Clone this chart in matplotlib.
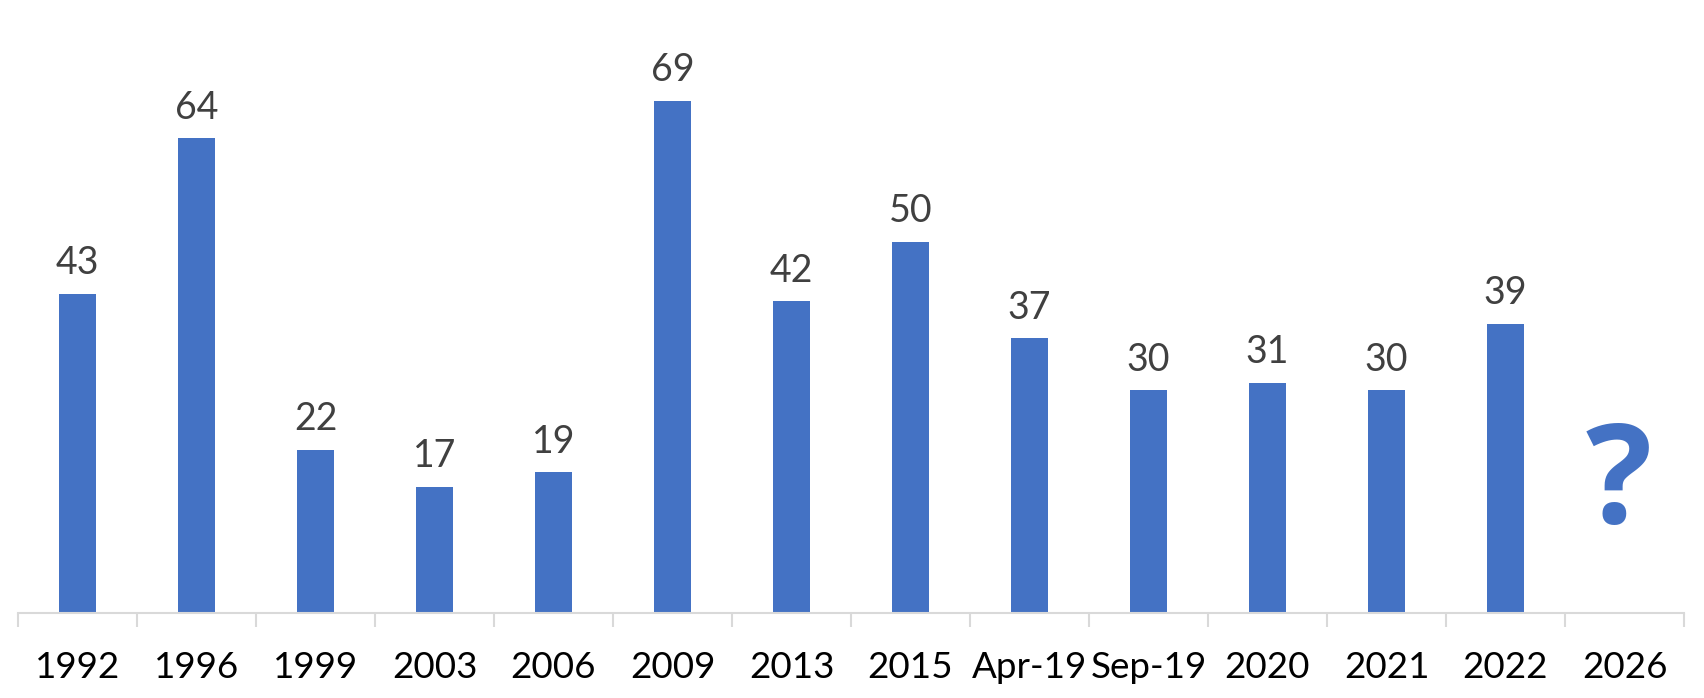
import numpy as np
import matplotlib
matplotlib.use('Agg')
from matplotlib import pyplot as plt

categories = ['1992', '1996', '1999', '2003', '2006', '2009', '2013', '2015',
              'Apr-19', 'Sep-19', '2020', '2021', '2022', '2026']
values = [43, 64, 22, 17, 19, 69, 42, 50, 37, 30, 31, 30, 39]
unknown_label = '?'

blue = '#4472C4'

plt.rcParams['font.family'] = ['Lato', 'DejaVu Sans']

fig = plt.figure(figsize=(17.04, 6.98), dpi=100)
ax = fig.add_axes([18 / 1704, 85 / 698, 1666 / 1704, 613 / 698])

x = np.arange(len(categories))
bars = ax.bar(x[:len(values)], values, width=0.31, color=blue)

for xi, v in zip(x, values):
    ax.annotate(str(v), (xi, v), xytext=(0, 14), textcoords='offset points',
                ha='center', va='baseline', fontsize=27, color='#404040')

# question mark for the missing year
ax.text(x[-1] - 0.05, 12.1, unknown_label, ha='center', va='baseline',
        fontsize=100, fontweight='bold', color=blue, family=['Open Sans', 'DejaVu Sans'])

ax.set_xlim(-0.5, len(categories) - 0.5)
ax.set_ylim(0, 82.6)
ax.set_yticks([])
for s in ['top', 'right', 'left']:
    ax.spines[s].set_visible(False)
ax.spines['bottom'].set_color('#d9d9d9')
ax.spines['bottom'].set_linewidth(1.5)

ax.set_xticks(x)
ax.set_xticklabels(categories, fontsize=26.5, color='black')
ax.tick_params(axis='x', which='major', length=0, pad=27)
ax.set_xticks(np.arange(len(categories) + 1) - 0.5, minor=True)
ax.tick_params(axis='x', which='minor', length=10, width=1.5, color='#d9d9d9')

fig.savefig('out.png', dpi=100)
